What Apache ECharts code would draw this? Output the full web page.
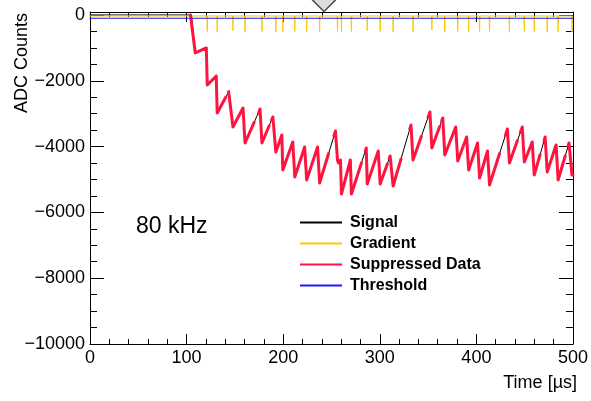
<!DOCTYPE html>
<html>
<head>
<meta charset="utf-8">
<script src="https://cdn.jsdelivr.net/npm/echarts@6/dist/echarts.min.js"></script>
<style>
  html, body { margin: 0; padding: 0; background: #fff; }
  #chart { width: 591px; height: 401px; }
</style>
</head>
<body>
<div id="chart"></div>
<script>
// Raw ADC waveform [time µs, counts]
const signalPoints = [
  [0, 0], [105, 0], [109, -1155], [120.4, -1003], [121.4, -2128], [130.7, -1854],
  [131.7, -2979], [144, -2310], [148, -3405], [158.4, -2827], [160.5, -3891],
  [176, -2858], [178, -3891], [189.3, -3100], [192.4, -4165], [198.6, -3648],
  [199.6, -4712], [209.9, -3861], [212, -4925], [222.2, -4013], [224.3, -5016],
  [235.6, -4013], [237.7, -5107], [254.1, -3526], [256.2, -4408], [257.2, -4500],
  [259.3, -4408], [260.3, -5442], [269.5, -4408], [270.6, -5442], [286, -4043],
  [287, -5138], [298.4, -4134], [300.4, -5138], [310.7, -4286], [313.8, -5198],
  [332.3, -3344], [334.4, -4408], [351.9, -2949], [353.9, -4043], [365.2, -3131],
  [367.3, -4256], [378.6, -3405], [380.7, -4438], [389.9, -3709], [392, -4712],
  [401.2, -3891], [403.3, -4955], [411.5, -4134], [413.6, -5168], [432.1, -3466],
  [434.2, -4499], [447.5, -3405], [449.6, -4469], [457.8, -3861], [459.9, -4864],
  [471.2, -3709], [473.3, -4773], [482.5, -3952], [484.6, -5016], [495.9, -3891],
  [499, -4864], [500, -4864]
];

// Samples kept after suppression; '-' marks a removed stretch
const suppressedPoints = [
  [104, 0], [105, 0], [109, -1155], [120.4, -1003], [121.4, -2128], [130.7, -1854],
  [131.7, -2979], [140.5, -2500], [142, '-'],
  [143.5, -2330], [144, -2310], [148, -3405], [158.4, -2827], [160.5, -3891], [170, -3260], [172, '-'],
  [174.5, -2990], [176, -2858], [178, -3891], [185.5, -3366], [187, '-'],
  [188, -3191], [189.3, -3100], [192.4, -4165], [198.6, -3648], [199.6, -4712],
  [209.9, -3861], [212, -4925], [222.2, -4013], [224.3, -5016], [235.6, -4013],
  [237.7, -5107], [247, -4210], [250, '-'],
  [252.5, -3680], [254.1, -3526], [256.2, -4408], [257.2, -4500], [259.3, -4408],
  [260.3, -5442], [269.5, -4408], [270.6, -5442], [281, -4498], [283, '-'],
  [285, -4134], [286, -4043], [287, -5138], [298.4, -4134], [300.4, -5138], [307.8, -4526], [308.8, '-'],
  [309.7, -4370], [310.7, -4286], [313.8, -5198], [322, -4376], [326, '-'],
  [331, -3474], [332.3, -3344], [334.4, -4408], [343, -3691], [346, '-'],
  [350, -3107], [351.9, -2949], [353.9, -4043], [362, -3389], [363, '-'],
  [364, -3228], [365.2, -3131], [367.3, -4256], [378.6, -3405], [380.7, -4438],
  [389.9, -3709], [392, -4712], [401.2, -3891], [403.3, -4955], [411.5, -4134],
  [413.6, -5168], [424, -4211], [427, '-'],
  [430, -3659], [432.1, -3466], [434.2, -4499], [442.5, -3816], [444, '-'],
  [445.5, -3569], [447.5, -3405], [449.6, -4469], [457.8, -3861], [459.9, -4864], [466, -4241], [468, '-'],
  [470, -3832], [471.2, -3709], [473.3, -4773], [482.5, -3952], [484.6, -5016], [492, -4279], [493.5, '-'],
  [495, -3980], [495.9, -3891], [499, -4864], [500, -4864]
];

// Gradient: flat baseline with a dip at each pulse edge
const gradientBase = -30;
const gradientDipTimes = [105, 121.4, 131.7, 148, 160.5, 178, 192.4, 199.6, 212, 224.3,
  237.7, 256.2, 260.3, 270.6, 287, 300.4, 313.8, 334.4, 353.9, 367.3, 380.7, 392,
  403.3, 413.6, 434.2, 449.6, 459.9, 473.3, 484.6, 499];
const gradientDipValues = [-520, -500, -520, -480, -520, -500, -520, -510, -500, -520,
  -510, -500, -520, -500, -480, -500, -520, -510, -460, -520, -500, -520,
  -500, -510, -520, -500, -500, -520, -510, -520];

// Suppression threshold
const thresholdValue = -100;
const timeRange = [0, 500];

const xTicks = [0, 100, 200, 300, 400, 500];
const yTicks = [-10000, -8000, -6000, -4000, -2000, 0];

const seriesNames = ['Signal', 'Gradient', 'Suppressed Data', 'Threshold'];
const seriesColors = ['#000000', '#ffc800', '#ff1440', '#1a1aff'];

const gradientPoints = [[timeRange[0], gradientBase]];
gradientDipTimes.forEach(function (t, i) {
  gradientPoints.push([t - 0.4, gradientBase], [t, gradientDipValues[i]], [t + 0.4, gradientBase]);
});
gradientPoints.push([timeRange[1], gradientBase]);

const thresholdPoints = [[timeRange[0], thresholdValue], [timeRange[1], thresholdValue]];

const FONT = 'Liberation Sans, Arial, Helvetica, sans-serif';
const minus = function (v) { return String(v).replace('-', '\u2212'); };

const chart = echarts.init(document.getElementById('chart'), null, { renderer: 'canvas' });

const frameAxisX = {
  type: 'value', min: 0, max: 500, interval: 100,
  axisLine: { show: true, onZero: false, lineStyle: { color: '#000', width: 1 } },
  axisTick: { show: true, inside: true, length: 10, lineStyle: { color: '#000' } },
  minorTick: { show: true, splitNumber: 5, length: 5, lineStyle: { color: '#000' } },
  splitLine: { show: false }
};
const frameAxisY = {
  type: 'value', min: -10000, max: 90, interval: 2000,
  axisLine: { show: true, onZero: false, lineStyle: { color: '#000', width: 1 } },
  axisTick: { show: true, inside: true, length: 14, lineStyle: { color: '#000' } },
  minorTick: { show: true, splitNumber: 4, length: 7, lineStyle: { color: '#000' } },
  splitLine: { show: false }
};

const lineWidths = [1, 1, 3, 1];
const seriesData = [signalPoints, gradientPoints, suppressedPoints, thresholdPoints];

chart.setOption({
  animation: false,
  backgroundColor: '#fff',
  color: seriesColors,
  grid: { left: 90, right: 15, top: 12, bottom: 57 },
  xAxis: [
    Object.assign({}, frameAxisX, {
      position: 'bottom',
      axisLabel: {
        show: true, margin: 5, color: '#000', fontFamily: FONT, fontSize: 18,
        formatter: function (v) { return xTicks.indexOf(v) >= 0 ? String(v) : ''; }
      }
    }),
    Object.assign({}, frameAxisX, { position: 'top', axisLabel: { show: false } })
  ],
  yAxis: [
    Object.assign({}, frameAxisY, {
      position: 'left',
      axisLabel: {
        show: true, margin: 5, color: '#000', fontFamily: FONT, fontSize: 18,
        formatter: function (v) { return yTicks.indexOf(v) >= 0 ? minus(v) : ''; }
      }
    }),
    Object.assign({}, frameAxisY, { position: 'right', axisLabel: { show: false } })
  ],
  legend: {
    orient: 'vertical', left: 300, top: 212, padding: 0, itemGap: 0,
    itemWidth: 42, itemHeight: 2, selectedMode: false,
    textStyle: { color: '#000', fontFamily: FONT, fontSize: 16, fontWeight: 'bold', lineHeight: 21, padding: [0, 0, 0, 3] },
    data: seriesNames.map(function (name, i) {
      return {
        name: name,
        icon: 'path://M0,0 L42,0 L42,2 L0,2 Z',
        itemStyle: { color: seriesColors[i], borderWidth: 0, opacity: 1 }
      };
    })
  },
  series: seriesNames.map(function (name, i) {
    return {
      name: name, type: 'line', data: seriesData[i], showSymbol: false,
      connectNulls: false,
      color: seriesColors[i],
      lineStyle: { color: seriesColors[i], width: lineWidths[i], join: 'round', cap: 'round' },
      itemStyle: { color: seriesColors[i] },
      z: 2 + i
    };
  }),
  graphic: [
    {
      type: 'text', x: 22, y: 13, rotation: Math.PI / 2,
      style: { text: 'ADC Counts', fill: '#000', font: '18px ' + FONT, align: 'right', verticalAlign: 'middle' }
    },
    {
      type: 'text', x: 577, y: 383,
      style: { text: 'Time [\u00b5s]', fill: '#000', font: '18px ' + FONT, align: 'right', verticalAlign: 'middle' }
    },
    {
      type: 'text', x: 136, y: 227,
      style: { text: '80 kHz', fill: '#000', font: '23px ' + FONT, align: 'left', verticalAlign: 'middle' }
    },
    {
      type: 'polygon', z: 100,
      shape: { points: [[311.5, -1], [336.5, -1], [324, 11.5]] },
      style: { fill: '#dedede', stroke: '#4a4a4a', lineWidth: 1.5 }
    }
  ]
});
</script>
</body>
</html>
